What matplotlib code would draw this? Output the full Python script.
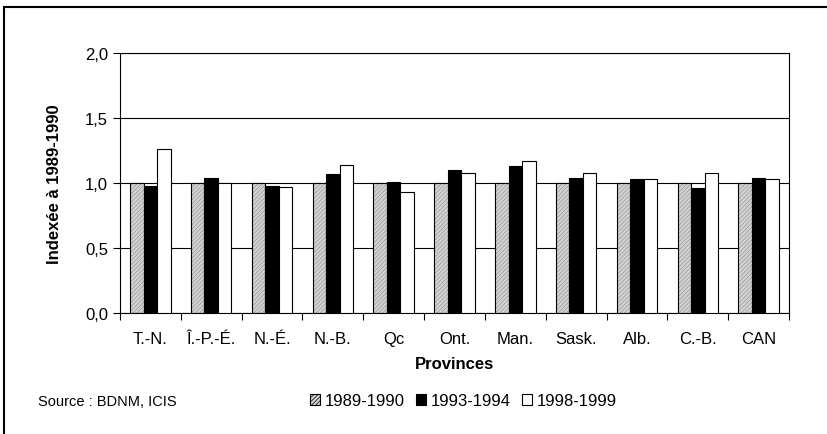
import numpy as np
import matplotlib
matplotlib.use('Agg')
from matplotlib import pyplot as plt
from matplotlib.patches import Rectangle

# data
provinces = ['T.-N.', 'Î.-P.-É.', 'N.-É.', 'N.-B.', 'Qc', 'Ont.', 'Man.',
             'Sask.', 'Alb.', 'C.-B.', 'CAN']
series_names = ['1989-1990', '1993-1994', '1998-1999']
values_8990 = [1.00, 1.00, 1.00, 1.00, 1.00, 1.00, 1.00, 1.00, 1.00, 1.00, 1.00]
values_9394 = [0.98, 1.04, 0.98, 1.07, 1.01, 1.10, 1.13, 1.04, 1.03, 0.96, 1.04]
values_9899 = [1.26, 1.00, 0.97, 1.14, 0.93, 1.08, 1.17, 1.08, 1.03, 1.08, 1.03]
y_ticks = [0.0, 0.5, 1.0, 1.5, 2.0]
y_tick_labels = ['0,0', '0,5', '1,0', '1,5', '2,0']

plt.rcParams['font.family'] = ['Liberation Sans', 'DejaVu Sans']
plt.rcParams['hatch.linewidth'] = 0.5

W, H = 828, 435
fig = plt.figure(figsize=(W / 100, H / 100), dpi=100)
ax = fig.add_axes([120 / W, 1 - 314 / H, (789 - 120) / W, (314 - 54) / H])

x = np.arange(len(provinces))
bw = 0.222
grey_fill, grey_hatch = '#d2d2d2', '#9a9a9a'

# grey hatched bars: hatch layer first, then black outline
ax.bar(x - bw, values_8990, bw, color=grey_fill, edgecolor=grey_hatch,
       hatch='////////', linewidth=0, zorder=2)
ax.bar(x - bw, values_8990, bw, fill=False, edgecolor='black', linewidth=0.8, zorder=3)
ax.bar(x, values_9394, bw, color='black', edgecolor='black', linewidth=0.8, zorder=3)
ax.bar(x + bw, values_9899, bw, color='white', edgecolor='black', linewidth=0.8, zorder=3)

# axes
ax.set_xlim(-0.5, len(provinces) - 0.5)
ax.set_ylim(0, 2.0)
ax.set_yticks(y_ticks)
ax.set_yticklabels(y_tick_labels, fontsize=12)
ax.set_xticks(np.arange(-0.5, len(provinces)))
ax.set_xticklabels([])
ax.set_xticks(x, minor=True)
ax.set_xticklabels(provinces, minor=True, fontsize=12)
ax.tick_params(axis='x', which='major', direction='out', length=5, width=0.8)
ax.tick_params(axis='x', which='minor', length=0, pad=13)
ax.tick_params(axis='y', direction='out', length=5, width=0.8, pad=3.5)
ax.yaxis.grid(True, color='black', linewidth=0.8, zorder=1)
ax.set_axisbelow(True)
for sp in ax.spines.values():
    sp.set_color('black')
    sp.set_linewidth(0.8)

# labels
fig.text(55 / W, 1 - 184 / H, 'Indexée à 1989-1990', rotation=90,
         ha='center', va='center', fontsize=12, fontweight='bold')
fig.text((120 + 789) / 2 / W, 1 - 365 / H, 'Provinces',
         ha='center', va='center', fontsize=12, fontweight='bold')
fig.text(38 / W, 1 - 402 / H, 'Source : BDNM, ICIS', ha='left', va='center', fontsize=10.5)

# legend
handles = [
    Rectangle((0, 0), 1, 1, facecolor=grey_fill, edgecolor='black', hatch='////////', linewidth=0.8),
    Rectangle((0, 0), 1, 1, facecolor='black', edgecolor='black', linewidth=0.8),
    Rectangle((0, 0), 1, 1, facecolor='white', edgecolor='black', linewidth=0.8),
]
fig.legend(handles, series_names, loc='center left', bbox_to_anchor=(310 / W, 1 - 402 / H),
           ncol=3, frameon=False, fontsize=12, handlelength=0.6, handleheight=0.6,
           handletextpad=0.3, columnspacing=0.65, borderpad=0, borderaxespad=0)

# outer border (only top and left edges fall inside the image)
fig.add_artist(Rectangle((4.5 / W, -0.1), 1.2, (1 - 7.5 / H) + 0.1, transform=fig.transFigure,
                         fill=False, edgecolor='black', linewidth=1.5, clip_on=False))

fig.savefig('out.png', dpi=100)
